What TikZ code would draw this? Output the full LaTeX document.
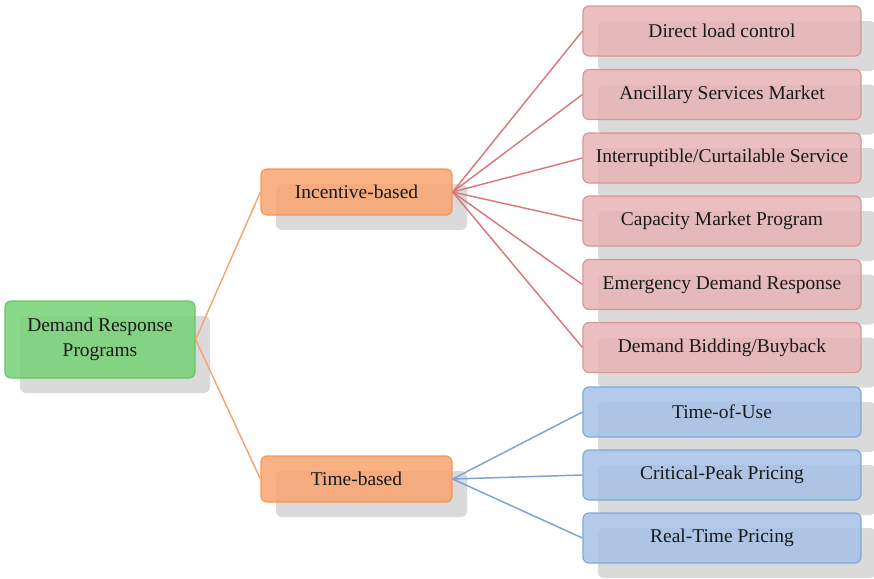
\documentclass[tikz,border=0pt]{standalone}
\usepackage{fontspec}
\setmainfont{Liberation Serif}
\usetikzlibrary{shadows}
\definecolor{grnfill}{RGB}{118,210,118}
\definecolor{grnline}{RGB}{104,196,104}
\definecolor{orfill}{RGB}{249,165,112}
\definecolor{orline}{RGB}{244,150,92}
\definecolor{redfill}{RGB}{232,180,180}
\definecolor{redline}{RGB}{217,150,150}
\definecolor{blufill}{RGB}{166,193,230}
\definecolor{bluline}{RGB}{130,168,218}
\definecolor{orconn}{RGB}{245,165,110}
\definecolor{redconn}{RGB}{214,122,124}
\definecolor{bluconn}{RGB}{126,162,212}
\definecolor{shade}{RGB}{218,218,218}
\tikzset{
  box/.style={rounded corners=4.5pt, line width=0.9pt, align=center, inner sep=0pt,
    font=\fontsize{14.6}{17}\selectfont, text=black!90, fill opacity=0.85, text opacity=1,
    drop shadow={shadow xshift=11.25pt, shadow yshift=-11.25pt, fill=shade, opacity=1, fill opacity=1}},
  gbox/.style={box, draw=grnline, fill=grnfill, minimum width=142.5pt, minimum height=57.75pt},
  obox/.style={box, draw=orline, fill=orfill, minimum width=143.25pt, minimum height=34.5pt},
  rbox/.style={box, draw=redline, fill=redfill, minimum width=208.5pt, minimum height=37.5pt},
  bbox/.style={box, draw=bluline, fill=blufill, minimum width=208.5pt, minimum height=37.5pt},
  oconn/.style={draw=orconn, line width=1.1pt},
  rconn/.style={draw=redconn, line width=1.1pt},
  bconn/.style={draw=bluconn, line width=1.1pt}
}
\begin{document}
\begin{tikzpicture}[x=0.75pt,y=-0.75pt]
\useasboundingbox (0,0) rectangle (874,578);
% boxes
\node[gbox] (drp) at (100,339.5) {Demand Response\\[2pt]Programs};
\node[obox] (inc) at (356.5,192) {Incentive-based};
\node[obox] (tim) at (356.5,479) {Time-based};
\node[rbox] (r1) at (722,31) {Direct load control};
\node[rbox] (r2) at (722,94.5) {Ancillary Services Market};
\node[rbox] (r3) at (722,158) {Interruptible/Curtailable Service};
\node[rbox] (r4) at (722,221) {Capacity Market Program};
\node[rbox] (r5) at (722,284.5) {Emergency Demand Response};
\node[rbox] (r6) at (722,347.5) {Demand Bidding/Buyback};
\node[bbox] (b1) at (722,412) {Time-of-Use};
\node[bbox] (b2) at (722,475) {Critical-Peak Pricing};
\node[bbox] (b3) at (722,538) {Real-Time Pricing};
% connectors
\draw[oconn] (drp.east) -- (inc.west);
\draw[oconn] (drp.east) -- (tim.west);
\foreach \n in {r1,r2,r3,r4,r5,r6}{
  \draw[rconn] (inc.east) -- (\n.west);
}
\foreach \n in {b1,b2,b3}{
  \draw[bconn] (tim.east) -- (\n.west);
}
\end{tikzpicture}
\end{document}
